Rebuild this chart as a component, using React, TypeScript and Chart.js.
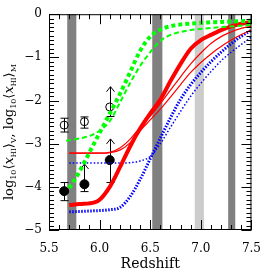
import React, { useEffect, useRef } from "react";
import { Chart, registerables } from "chart.js";
Chart.register(...registerables);

const X_MIN = 5.5, X_MAX = 7.5, Y_MIN = -5, Y_MAX = 0;
const xMajor = [5.5, 6.0, 6.5, 7.0, 7.5];
const yMajor = [0, -1, -2, -3, -4, -5];
const xMinorStep = 0.1;
const yMinorStep = 0.1;

const darkBands = [[5.68, 5.77], [6.52, 6.62], [7.27, 7.34]];
const lightBands = [[6.94, 7.03]];

// green thick dotted
const zGreenThick = [5.70, 5.80, 5.90, 6.00, 6.10, 6.20, 6.30, 6.40, 6.50, 6.60, 6.70, 6.80, 7.00, 7.20, 7.50];
const yGreenThick = [-4.03, -3.65, -3.20, -2.75, -2.30, -1.85, -1.35, -0.85, -0.52, -0.36, -0.28, -0.24, -0.20, -0.18, -0.15];
// green dashed
const zGreenThin = [5.67, 5.80, 5.90, 6.00, 6.10, 6.20, 6.30, 6.40, 6.50, 6.60, 6.70, 6.80, 7.00, 7.20, 7.50];
const yGreenThin = [-2.93, -2.88, -2.82, -2.70, -2.48, -2.05, -1.60, -1.20, -0.88, -0.62, -0.48, -0.41, -0.34, -0.30, -0.25];
// red thick
const zRedThick = [5.70, 5.80, 5.95, 6.00, 6.10, 6.20, 6.30, 6.40, 6.50, 6.60, 6.70, 6.80, 6.90, 7.00, 7.10, 7.20, 7.30, 7.40, 7.50];
const yRedThick = [-4.42, -4.40, -4.36, -4.30, -4.00, -3.55, -3.07, -2.65, -2.30, -1.98, -1.55, -1.15, -0.80, -0.60, -0.48, -0.37, -0.28, -0.22, -0.18];
// red thin A
const zRedThinA = [5.70, 6.00, 6.10, 6.20, 6.30, 6.40, 6.50, 6.60, 6.70, 6.80, 6.90, 7.00, 7.10, 7.20, 7.30, 7.40, 7.50];
const yRedThinA = [-3.22, -3.22, -3.20, -3.10, -2.90, -2.62, -2.36, -2.07, -1.76, -1.45, -1.15, -0.90, -0.68, -0.52, -0.41, -0.33, -0.28];
// red thin B
const zRedThinB = [5.70, 6.00, 6.10, 6.20, 6.30, 6.40, 6.50, 6.60, 6.70, 6.80, 6.90, 7.00, 7.10, 7.20, 7.30, 7.40, 7.50];
const yRedThinB = [-3.22, -3.22, -3.21, -3.15, -2.98, -2.70, -2.45, -2.20, -1.92, -1.63, -1.35, -1.12, -0.92, -0.75, -0.60, -0.47, -0.37];
// blue thick dotted
const zBlueThick = [5.70, 5.90, 6.10, 6.20, 6.30, 6.40, 6.50, 6.60, 6.70, 6.80, 6.90, 7.00, 7.10, 7.20, 7.30, 7.40, 7.50];
const yBlueThick = [-4.58, -4.56, -4.53, -4.48, -4.23, -3.83, -3.35, -2.87, -2.40, -1.97, -1.63, -1.35, -1.10, -0.88, -0.68, -0.51, -0.37];
// blue thin dotted
const zBlueThin = [5.70, 6.00, 6.20, 6.30, 6.40, 6.50, 6.60, 6.70, 6.80, 6.90, 7.00, 7.10, 7.20, 7.30, 7.40, 7.50];
const yBlueThin = [-3.45, -3.45, -3.45, -3.44, -3.40, -3.30, -3.00, -2.62, -2.25, -1.90, -1.60, -1.33, -1.08, -0.88, -0.70, -0.53];

// observations
const obsOpenZ = [5.65, 5.85, 6.10];
const obsOpenY = [-2.57, -2.49, -2.15];
const obsOpenLo = [-2.73, -2.64, -2.37];
const obsOpenHi = [-2.41, -2.38, -1.68];
const obsOpenLimit = [false, false, true];
const obsFilledZ = [5.65, 5.85, 6.10];
const obsFilledY = [-4.10, -3.94, -3.38];
const obsFilledLo = [-4.32, -4.11, -3.90];
const obsFilledHi = [-3.90, -3.47, -2.89];
const obsFilledLimit = [false, true, true];

const pts = (xs: number[], ys: number[]) => xs.map((x, i) => ({ x, y: ys[i] }));

const FONT = "DejaVu Serif";

const line = (label: string, xs: number[], ys: number[], color: string, width: number, dash: number[]) => ({
  label,
  data: pts(xs, ys),
  borderColor: color,
  backgroundColor: color,
  borderWidth: width,
  borderDash: dash,
  pointRadius: 0,
  fill: false,
  showLine: true,
  cubicInterpolationMode: "monotone" as const,
});

const overlay = {
  id: "overlay",
  beforeDatasetsDraw(chart: any) {
    const { ctx, chartArea: a, scales } = chart;
    const xs = scales.x, ys = scales.y;
    ctx.save();
    const band = (b: number[], c: string) => {
      const x0 = xs.getPixelForValue(b[0]);
      const x1 = xs.getPixelForValue(b[1]);
      ctx.fillStyle = c;
      ctx.fillRect(x0, a.top, x1 - x0, a.bottom - a.top);
    };
    darkBands.forEach((b) => band(b, "#808080"));
    lightBands.forEach((b) => band(b, "#cccccc"));
    // error bars
    ctx.strokeStyle = "#000";
    ctx.lineWidth = 1;
    const err = (z: number[], lo: number[], hi: number[], lim: boolean[]) => {
      z.forEach((zz, i) => {
        const px = Math.round(xs.getPixelForValue(zz)) + 0.5;
        const pLo = ys.getPixelForValue(lo[i]);
        const pHi = ys.getPixelForValue(hi[i]);
        ctx.beginPath();
        ctx.moveTo(px, pLo);
        ctx.lineTo(px, pHi);
        ctx.moveTo(px - 4, pLo);
        ctx.lineTo(px + 4, pLo);
        if (lim[i]) {
          ctx.moveTo(px - 4, pHi + 5);
          ctx.lineTo(px, pHi);
          ctx.lineTo(px + 4, pHi + 5);
        } else {
          ctx.moveTo(px - 4, pHi);
          ctx.lineTo(px + 4, pHi);
        }
        ctx.stroke();
      });
    };
    err(obsOpenZ, obsOpenLo, obsOpenHi, obsOpenLimit);
    err(obsFilledZ, obsFilledLo, obsFilledHi, obsFilledLimit);
    ctx.restore();
  },
  afterDatasetsDraw(chart: any) {
    const { ctx, chartArea: a, scales } = chart;
    const xs = scales.x, ys = scales.y;
    ctx.save();
    ctx.strokeStyle = "#000";
    ctx.lineWidth = 1;
    ctx.strokeRect(a.left + 0.5, a.top + 0.5, a.right - a.left - 1, a.bottom - a.top - 1);
    ctx.beginPath();
    const nx = Math.round((X_MAX - X_MIN) / xMinorStep);
    for (let i = 0; i <= nx; i++) {
      const v = X_MIN + i * xMinorStep;
      const major = xMajor.some((m) => Math.abs(m - v) < 1e-6);
      const len = major ? 10 : 5;
      const px = Math.round(xs.getPixelForValue(v)) + 0.5;
      ctx.moveTo(px, a.bottom);
      ctx.lineTo(px, a.bottom - len);
      ctx.moveTo(px, a.top);
      ctx.lineTo(px, a.top + len);
    }
    const ny = Math.round((Y_MAX - Y_MIN) / yMinorStep);
    for (let i = 0; i <= ny; i++) {
      const v = Y_MIN + i * yMinorStep;
      const major = yMajor.some((m) => Math.abs(m - v) < 1e-6);
      const len = major ? 10 : 5;
      const py = Math.round(ys.getPixelForValue(v)) + 0.5;
      ctx.moveTo(a.left, py);
      ctx.lineTo(a.left + len, py);
      ctx.moveTo(a.right, py);
      ctx.lineTo(a.right - len, py);
    }
    ctx.stroke();

    // titles
    ctx.fillStyle = "#000";
    ctx.textAlign = "center";
    ctx.textBaseline = "alphabetic";
    ctx.font = `14px ${FONT}`;
    ctx.fillText("Redshift", (a.left + a.right) / 2, 268);

    const big = `13px ${FONT}`;
    const ital = `italic 13px ${FONT}`;
    const sub = `8px ${FONT}`;
    const tiny = `7px ${FONT}`;
    const segs: { t: string; f: string; dy?: number }[] = [
      { t: "log", f: big },
      { t: "10", f: sub, dy: 3 },
      { t: "⟨", f: big },
      { t: "x", f: ital },
      { t: "HI", f: tiny, dy: 3 },
      { t: "⟩", f: big },
      { t: "V", f: sub, dy: 3 },
      { t: ", log", f: big },
      { t: "10", f: sub, dy: 3 },
      { t: "⟨", f: big },
      { t: "x", f: ital },
      { t: "HI", f: tiny, dy: 3 },
      { t: "⟩", f: big },
      { t: "M", f: sub, dy: 3 },
    ];
    ctx.save();
    ctx.translate(13, (a.top + a.bottom) / 2 + 10);
    ctx.rotate(-Math.PI / 2);
    ctx.textAlign = "left";
    let total = 0;
    const ws = segs.map((s) => {
      ctx.font = s.f;
      const w = ctx.measureText(s.t).width;
      total += w;
      return w;
    });
    let x = -total / 2;
    segs.forEach((s, i) => {
      ctx.font = s.f;
      ctx.fillText(s.t, x, s.dy || 0);
      x += ws[i];
    });
    ctx.restore();
    ctx.restore();
  },
};

export default function App() {
  const ref = useRef<HTMLCanvasElement | null>(null);
  useEffect(() => {
    document.body.style.margin = "0";
    const canvas = ref.current!;
    const chart = new Chart(canvas, {
      type: "scatter",
      data: {
        datasets: [
          line("green V", zGreenThick, yGreenThick, "#00ff00", 4, [4, 3]),
          line("green M", zGreenThin, yGreenThin, "#00ff00", 2, [5, 3]),
          line("red V", zRedThick, yRedThick, "#ff0000", 4, []),
          line("red A", zRedThinA, yRedThinA, "#ff0000", 1.2, []),
          line("red B", zRedThinB, yRedThinB, "#ff0000", 1.2, []),
          line("blue V", zBlueThick, yBlueThick, "#0000ff", 3, [1.5, 1.5]),
          line("blue M", zBlueThin, yBlueThin, "#0000ff", 1.5, [1.5, 2]),
          {
            label: "open",
            data: pts(obsOpenZ, obsOpenY),
            pointRadius: 4,
            pointBorderWidth: 1,
            borderColor: "#000",
            backgroundColor: "rgba(0,0,0,0)",
            showLine: false,
          },
          {
            label: "filled",
            data: pts(obsFilledZ, obsFilledY),
            pointRadius: 4.5,
            pointBorderWidth: 1,
            borderColor: "#000",
            backgroundColor: "#000",
            showLine: false,
          },
        ] as any,
      },
      options: {
        animation: false,
        responsive: false,
        devicePixelRatio: 1,
        layout: { padding: { top: 14, right: 14, left: 0, bottom: 0 } },
        plugins: { legend: { display: false }, tooltip: { enabled: false } },
        scales: {
          x: {
            type: "linear",
            min: X_MIN,
            max: X_MAX,
            afterBuildTicks: (s: any) => {
              s.ticks = xMajor.map((v) => ({ value: v }));
            },
            afterFit: (s: any) => {
              s.height = 43;
            },
            grid: { display: false, drawTicks: false },
            border: { display: false },
            ticks: {
              padding: 12,
              color: "#000",
              maxRotation: 0,
              autoSkip: false,
              font: { family: FONT, size: 12 },
              callback: (v: any) => Number(v).toFixed(1),
            },
          },
          y: {
            type: "linear",
            min: Y_MIN,
            max: Y_MAX,
            afterBuildTicks: (s: any) => {
              s.ticks = yMajor.map((v) => ({ value: v }));
            },
            afterFit: (s: any) => {
              s.width = 49;
            },
            grid: { display: false, drawTicks: false },
            border: { display: false },
            ticks: {
              padding: 7,
              color: "#000",
              autoSkip: false,
              font: { family: FONT, size: 12 },
              callback: (v: any) => (Number(v) === 0 ? "0" : "−" + Math.abs(Number(v))),
            },
          },
        },
      },
      plugins: [overlay],
    });
    return () => chart.destroy();
  }, []);
  return <canvas ref={ref} width={273} height={273} style={{ display: "block", width: 273, height: 273 }} />;
}
